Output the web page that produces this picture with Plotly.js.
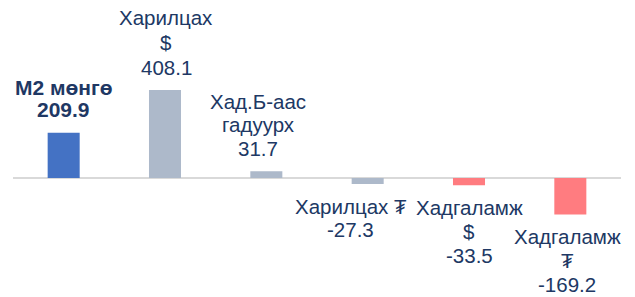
<!DOCTYPE html>
<html>
<head>
<meta charset="utf-8">
<script src="https://cdn.plot.ly/plotly-3.0.1.min.js"></script>
<style>html,body{margin:0;padding:0;background:#fff;}</style>
</head>
<body>
<div id="chart" style="width:635px;height:297px;"></div>
<script>
const categories = ["M2 мөнгө", "Харилцах $", "Хад.Б-аас гадуурх", "Харилцах ₮", "Хадгаламж $", "Хадгаламж ₮"];
const values = [209.9, 408.1, 31.7, -27.3, -33.5, -169.2];
const labelNames = [["M2 мөнгө"], ["Харилцах", "$"], ["Хад.Б-аас", "гадуурх"], ["Харилцах ₮"], ["Хадгаламж", "$"], ["Хадгаламж", "₮"]];
const barColors = ["#4472C4", "#ADB9CA", "#ADB9CA", "#ADB9CA", "#FF7C80", "#FF7C80"];

// label layout (pixels)
const labelShifts = [0, 1, -8, -17, 0, -3];
const lineGaps = [22.5, 25, 23.5, 23.5, 24, 24];
const posBaseOffset = 15.5; // bar top -> baseline of value line
const negBaseOffset = 29.5; // bar bottom -> baseline of first line
const fontSize = 20.5;

const trace = {
  type: "bar",
  x: categories,
  y: values,
  width: 0.316,
  marker: {color: barColors},
  hoverinfo: "none"
};

const annotations = [];
values.forEach((v, i) => {
  const lines = labelNames[i].concat([v.toFixed(1)]);
  const n = lines.length;
  const size = i === 0 ? 21 : fontSize;
  const half = 0.35 * size;
  lines.forEach((line, k) => {
    let shift;
    if (v >= 0) {
      const fromBottom = n - 1 - k;
      shift = posBaseOffset + fromBottom * lineGaps[i] + half;
    } else {
      shift = -(negBaseOffset + k * lineGaps[i] - half);
    }
    annotations.push({
      x: categories[i],
      y: v,
      xref: "x", yref: "y",
      text: i === 0 ? "<b>" + line + "</b>" : line,
      showarrow: false,
      yanchor: "middle",
      xanchor: "center",
      yshift: shift,
      xshift: labelShifts[i],
      font: {family: "Liberation Sans, Arial, sans-serif", size: size, color: i === 0 ? "#1F3864" : "#203864"}
    });
  });
});

const layout = {
  width: 635, height: 297,
  margin: {l: 13, r: 14, t: 0, b: 0},
  paper_bgcolor: "#fff", plot_bgcolor: "#fff",
  showlegend: false,
  xaxis: {
    type: "category",
    range: [-0.5, 5.5],
    showticklabels: false,
    showgrid: false,
    zeroline: false,
    showline: false,
    fixedrange: true
  },
  yaxis: {
    range: [-551.7, 825.2],
    showticklabels: false,
    showgrid: false,
    zeroline: true,
    zerolinecolor: "#D9D9D9",
    zerolinewidth: 2,
    showline: false,
    fixedrange: true
  },
  annotations: annotations
};

Plotly.newPlot("chart", [trace], layout, {displayModeBar: false, staticPlot: true});
</script>
</body>
</html>
